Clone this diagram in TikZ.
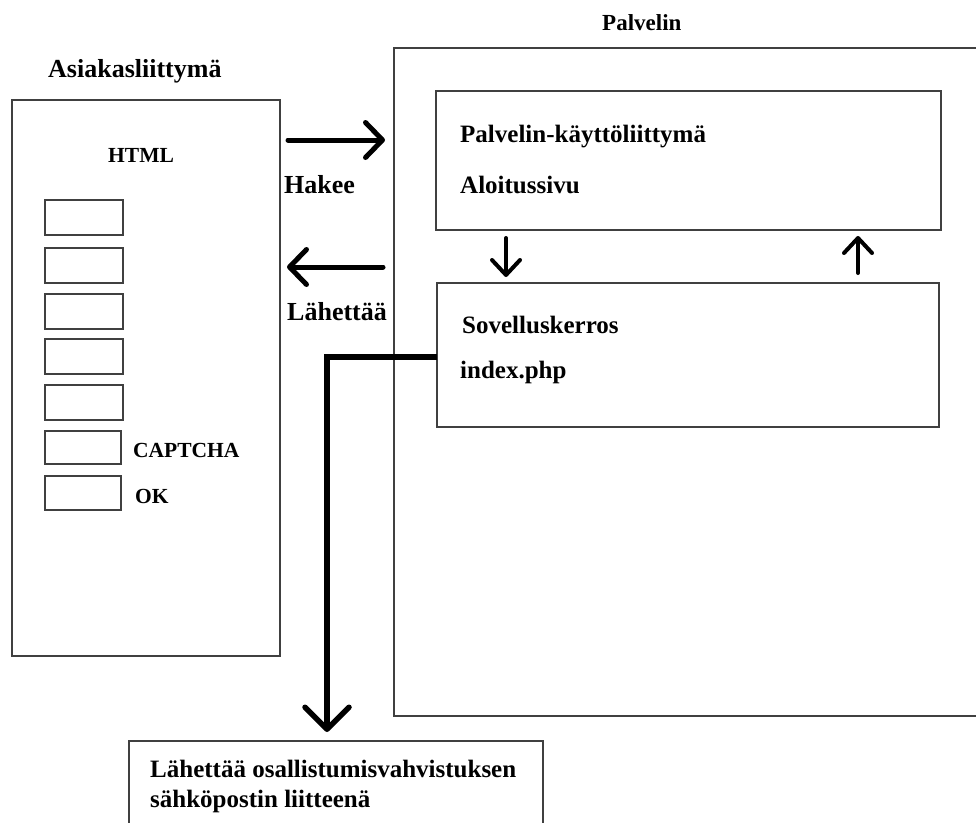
\documentclass[tikz,border=0pt]{standalone}
\usepackage{fontspec}
\setmainfont{Liberation Serif}
\usetikzlibrary{arrows.meta,calc}
\begin{document}
\begin{tikzpicture}[x=1pt,y=-1pt,
  box/.style={draw=black!75,line width=1.3pt,inner sep=0pt,outer sep=0pt,anchor=north west},
  field/.style={box,minimum width=78pt,minimum height=35pt},
  lbl/.style={anchor=base west,inner sep=0pt,font=\fontsize{25}{29}\selectfont\bfseries},
  caps/.style={lbl,font=\fontsize{21.5}{26}\selectfont\bfseries},
  wide/.style={lbl,font=\fontsize{26}{30}\selectfont\bfseries},
  bigarrow/.style={line width=5pt,line cap=round,line join=round,-{Straight Barb[length=17pt,width=35pt,round]}},
  smallarrow/.style={line width=4pt,line cap=round,line join=round,-{Straight Barb[length=15pt,width=28pt,round]}},
  mailarrow/.style={line width=5.5pt,line join=miter,-{Straight Barb[length=22pt,width=44pt,round]}}]
\fill[white] (0,0) rectangle (976,822);
\useasboundingbox (0,0) rectangle (976,822);

% containers
\node[box,minimum width=268pt,minimum height=556pt] (client) at (12,100) {};
\node[box,minimum width=640pt,minimum height=668pt] (server) at (394,48) {};
\node[box,minimum width=505pt,minimum height=139pt] (ui) at (436,91) {};
\node[box,minimum width=502pt,minimum height=144pt] (app) at (437,283) {};
\node[box,minimum width=414pt,minimum height=120pt] (mail) at (129,741) {};

% input fields
\node[field] (f1) at (45,200) {};
\node[field] (f2) at (45,248) {};
\node[field] (f3) at (45,294) {};
\node[field] (f4) at (45,339) {};
\node[field] (f5) at (45,385) {};
\node[field,minimum width=76pt,minimum height=33pt] (f6) at (45,431) {};
\node[field,minimum width=76pt,minimum height=34pt] (f7) at (45,476) {};

% labels
\node[wide] (tclient) at (48,77) {Asiakasliittymä};
\node[lbl,font=\fontsize{23}{27}\selectfont\bfseries] (tserver) at (602,30) {Palvelin};
\node[caps] (thtml) at (108,162) {HTML};
\node[caps] (tcaptcha) at (133,457) {CAPTCHA};
\node[caps] (tok) at (135,503) {OK};
\node[wide] (thakee) at (284,193) {Hakee};
\node[wide] (tlah) at (287,320) {Lähettää};
\node[lbl] (tui) at (460,142) {Palvelin-käyttöliittymä};
\node[lbl] (talo) at (460,193) {Aloitussivu};
\node[lbl] (tapp) at (462,333) {Sovelluskerros};
\node[lbl] (tidx) at (460,378) {index.php};
\node[lbl] (tmail1) at (150,777) {Lähettää osallistumisvahvistuksen};
\node[lbl] (tmail2) at (150,807) {sähköpostin liitteenä};

% connectors
\coordinate (hk) at (0,140);
\coordinate (lh) at (0,267);
\draw[bigarrow] ([xshift=8pt]client.east |- hk) -- ([xshift=-9pt]server.west |- hk);
\draw[bigarrow] ([xshift=-11pt]server.west |- lh) -- ([xshift=7pt]client.east |- lh);

\coordinate (dnx) at (506,0);
\coordinate (upx) at (858,0);
\draw[smallarrow] ([yshift=-8pt]ui.south -| dnx) -- ([yshift=6pt]app.north -| dnx);
\draw[smallarrow] ([yshift=10pt]app.north -| upx) -- ([yshift=-6pt]ui.south -| upx);

\coordinate (corner) at (327,357);
\draw[mailarrow] (app.west |- corner) -- (corner) -- ([yshift=9pt]mail.north -| corner);
\end{tikzpicture}
\end{document}
